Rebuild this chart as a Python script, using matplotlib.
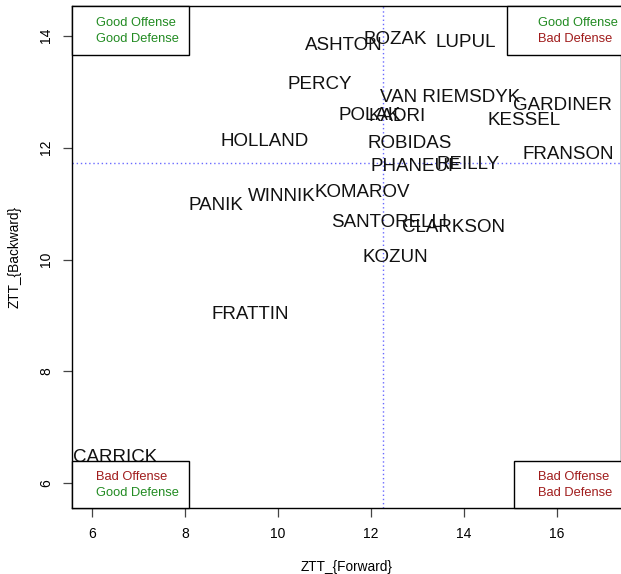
import matplotlib
matplotlib.use('Agg')
import matplotlib.pyplot as plt
from matplotlib.patches import Rectangle

plt.rcParams['font.family'] = ['Liberation Sans', 'DejaVu Sans']

# player z-scores
players = ['ASHTON', 'BOZAK', 'LUPUL', 'PERCY', 'VAN RIEMSDYK', 'GARDINER',
           'POLAK', 'KADRI', 'KESSEL', 'HOLLAND', 'ROBIDAS', 'FRANSON',
           'PHANEUF', 'REILLY', 'KOMAROV', 'WINNIK', 'PANIK', 'SANTORELLI',
           'CLARKSON', 'KOZUN', 'FRATTIN', 'CARRICK']
ztt_fwd = [11.42, 12.52, 14.04, 10.90, 13.70, 16.13,
           11.98, 12.56, 15.29, 9.72, 12.84, 16.24,
           12.95, 14.09, 11.81, 10.09, 8.67, 12.39,
           13.78, 12.52, 9.40, 6.49]
ztt_bwd = [13.83, 13.94, 13.87, 13.12, 12.90, 12.76,
           12.58, 12.56, 12.49, 12.11, 12.08, 11.88,
           11.67, 11.69, 11.19, 11.13, 10.96, 10.67,
           10.58, 10.04, 9.02, 6.46]
mean_fwd = 12.26
mean_bwd = 11.72

xticks = [6, 8, 10, 12, 14, 16]
yticks = [6, 8, 10, 12, 14]

W, H = 621, 574
fig = plt.figure(figsize=(W / 100, H / 100), dpi=100)
ax = fig.add_axes([72 / W, (H - 508) / H, (W - 72) / W, (508 - 6) / H])

for name, x, y in zip(players, ztt_fwd, ztt_bwd):
    ax.text(x, y, name, fontsize=13.5, ha='center', va='center', color='#111111')

# mean lines
ax.axvline(mean_fwd, color='#6a6aff', lw=1, ls=(0, (1, 2)))
ax.axhline(mean_bwd, color='#6a6aff', lw=1, ls=(0, (1, 2)))

ax.set_xlim(5.57, 17.38)
ax.set_ylim(5.56, 14.53)
ax.set_xticks(xticks)
ax.set_yticks(yticks)
ax.tick_params(direction='out', length=6.5, width=0.9, color='#444444',
               labelsize=10, pad=7)
for lab in ax.get_yticklabels():
    lab.set_rotation(90)
    lab.set_va('center')
for s in ax.spines.values():
    s.set_linewidth(1)
    s.set_color('black')

fig.text(347 / W, 1 - 567 / H, 'ZTT_{Forward}', fontsize=9.8, ha='center', va='center')
fig.text(15 / W, 1 - 257 / H, 'ZTT_{Backward}', fontsize=9.8, ha='center', va='center',
         rotation=90)

# quadrant boxes (pixel coordinates of the figure)
green = '#228B22'
red = '#a01c1c'
boxes = [
    (72, 6, 189, 55, 96, ('Good Offense', green), ('Good Defense', green)),
    (507, 6, 622, 55, 538, ('Good Offense', green), ('Bad Defense', red)),
    (72, 461, 189, 508, 96, ('Bad Offense', red), ('Good Defense', green)),
    (514, 461, 622, 508, 538, ('Bad Offense', red), ('Bad Defense', red)),
]
for x0, y0, x1, y1, tx, l1, l2 in boxes:
    fig.patches.append(Rectangle((x0 / W, 1 - y1 / H), (x1 - x0) / W, (y1 - y0) / H,
                                 transform=fig.transFigure, facecolor='white',
                                 edgecolor='black', lw=1, zorder=5))
    ymid = (y0 + y1) / 2
    fig.text(tx / W, 1 - (ymid - 8) / H, l1[0], color=l1[1], fontsize=9.3,
             va='center', ha='left', zorder=6)
    fig.text(tx / W, 1 - (ymid + 8) / H, l2[0], color=l2[1], fontsize=9.3,
             va='center', ha='left', zorder=6)

fig.savefig('out.png', dpi=100)
